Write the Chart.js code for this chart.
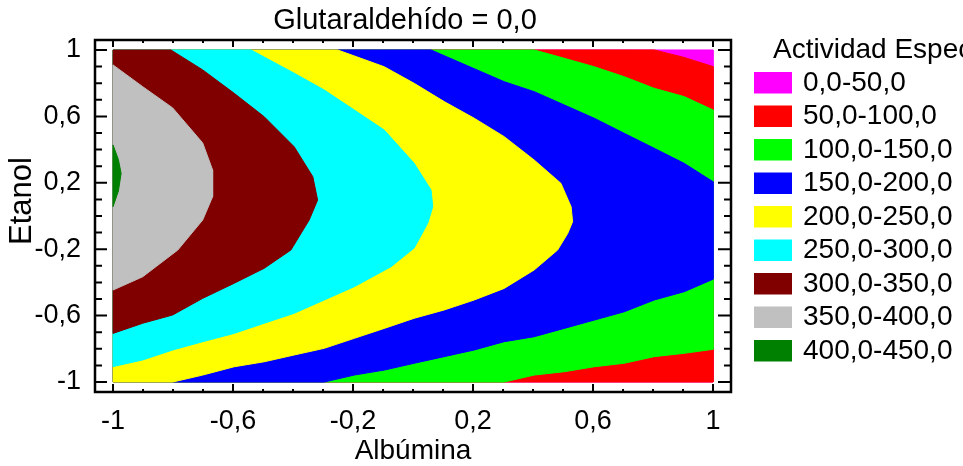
<!DOCTYPE html>
<html lang="es">
<head>
<meta charset="utf-8">
<title>Glutaraldehído = 0,0</title>
<script src="https://cdn.jsdelivr.net/npm/chart.js@4.4.1/dist/chart.umd.min.js"></script>
<style>
    html, body { margin: 0; padding: 0; background: #fff; }
    #wrap { width: 963px; height: 466px; }
</style>
</head>
<body>
<div id="wrap"><canvas id="contour" width="963" height="466"></canvas></div>
<script>
const FONT = '"Liberation Sans", Arial, Helvetica, sans-serif';

// Bands of the response surface, lowest activity first
const bandLabels = [
    "0,0-50,0", "50,0-100,0", "100,0-150,0", "150,0-200,0", "200,0-250,0",
    "250,0-300,0", "300,0-350,0", "350,0-400,0", "400,0-450,0"
];
const bandColors = [
    "#ff00ff", "#ff0000", "#00ff00", "#0000ff", "#ffff00",
    "#00ffff", "#800000", "#c0c0c0", "#008000"
];

const tickValues = [-1, -0.6, -0.2, 0.2, 0.6, 1];
const tickLabels = ["-1", "-0,6", "-0,2", "0,2", "0,6", "1"];

// Iso-lines as [albumina, etanol]; everything to their left is above the level.
// Each one runs from the top/left edge round the right side to the bottom/left edge.
const domain = [[-1, 1], [1, 1], [1, -1], [-1, -1]];
const iso50 = [[0.804, 1], [0.904, 0.955], [1, 0.9], [1, -1]];
const iso100 = [
    [0.404, 1], [0.504, 0.95], [0.604, 0.899], [0.704, 0.839], [0.804, 0.769],
    [0.904, 0.719], [1, 0.639], [1, -0.803], [0.904, -0.827], [0.804, -0.847],
    [0.704, -0.887], [0.604, -0.908], [0.504, -0.938], [0.404, -0.958], [0.304, -1]
];
const iso150 = [
    [0.06, 1], [0.304, 0.809], [0.404, 0.749], [0.504, 0.669], [0.604, 0.589],
    [0.704, 0.498], [0.804, 0.408], [0.904, 0.317], [1, 0.207],
    [1, -0.381], [0.904, -0.456], [0.804, -0.506], [0.704, -0.577], [0.604, -0.627],
    [0.504, -0.677], [0.404, -0.727], [0.304, -0.757], [0.204, -0.807], [0.104, -0.847],
    [0.004, -0.887], [-0.096, -0.928], [-0.196, -0.958], [-0.296, -1]
];
const iso200 = [
    [-0.251, 1], [-0.096, 0.899], [0.004, 0.799], [0.104, 0.689], [0.204, 0.589],
    [0.304, 0.478], [0.404, 0.337], [0.493, 0.197], [0.527, 0.056], [0.532, -0.034],
    [0.516, -0.104], [0.482, -0.205], [0.404, -0.325], [0.304, -0.436], [0.204, -0.506],
    [0.104, -0.566], [0.004, -0.616], [-0.096, -0.677], [-0.196, -0.737], [-0.296, -0.797],
    [-0.396, -0.837], [-0.496, -0.878], [-0.596, -0.908], [-0.701, -0.958], [-0.801, -1]
];
const iso250 = [
    [-0.54, 1], [-0.396, 0.86], [-0.296, 0.759], [-0.196, 0.639], [-0.096, 0.518],
    [0.004, 0.317], [0.06, 0.157], [0.066, 0.056], [0.049, -0.044], [0.004, -0.193],
    [-0.073, -0.305], [-0.196, -0.426], [-0.296, -0.506], [-0.396, -0.586], [-0.496, -0.646],
    [-0.596, -0.707], [-0.701, -0.757], [-0.801, -0.807], [-0.901, -0.867], [-1, -0.907]
];
const iso300 = [
    [-0.807, 1], [-0.701, 0.88], [-0.596, 0.739], [-0.496, 0.598], [-0.396, 0.417],
    [-0.334, 0.237], [-0.318, 0.096], [-0.346, -0.024], [-0.407, -0.205], [-0.496, -0.315],
    [-0.596, -0.405], [-0.701, -0.496], [-0.801, -0.596], [-0.901, -0.646], [-1, -0.707]
];
const iso350 = [
    [-1, 0.91], [-0.901, 0.779], [-0.801, 0.651], [-0.701, 0.44], [-0.668, 0.277],
    [-0.668, 0.116], [-0.701, -0.024], [-0.784, -0.205], [-0.901, -0.366], [-1, -0.446]
];
const iso400 = [[-1, 0.428], [-0.982, 0.34], [-0.973, 0.257], [-0.982, 0.15], [-1, 0.056]];

const contours = [domain, iso50, iso100, iso150, iso200, iso250, iso300, iso350, iso400];

// close an iso-line against the left side of the domain
function regionFrom(line) {
    const pts = line.slice();
    if (pts[0][1] === 1 && pts[0][0] !== -1) pts.unshift([-1, 1]);
    const last = pts[pts.length - 1];
    if (last[1] === -1 && last[0] !== -1) pts.push([-1, -1]);
    pts.push(pts[0]);
    return pts.map(([x, y]) => ({ x, y }));
}

const datasets = contours.map((line, i) => ({
    label: bandLabels[i],
    data: regionFrom(line),
    fill: "shape",
    backgroundColor: bandColors[i],
    borderColor: bandColors[i],
    borderWidth: 1,
    pointRadius: 0,
    tension: 0,
    order: contours.length - i   // higher bands painted last
}));

function isMajor(v) {
    return tickValues.some(t => Math.abs(t - v) < 1e-9);
}

// box, inward ticks, texts and the side legend
const framePlugin = {
    id: "frame",
    afterDraw(chart) {
        const { ctx, chartArea: a, scales: { x, y } } = chart;
        ctx.save();
        ctx.strokeStyle = "#000";
        ctx.lineWidth = 2.5;
        ctx.strokeRect(a.left, a.top, a.right - a.left, a.bottom - a.top);

        ctx.lineWidth = 2;
        ctx.beginPath();
        for (let i = -10; i <= 10; i++) {
            const v = i / 10;
            const major = isMajor(v);
            const px = x.getPixelForValue(v);
            const py = y.getPixelForValue(v);
            ctx.moveTo(px, a.bottom); ctx.lineTo(px, a.bottom - (major ? 8 : 3));
            ctx.moveTo(px, a.top); ctx.lineTo(px, a.top + (major ? 7 : 3));
            ctx.moveTo(a.left, py); ctx.lineTo(a.left + (major ? 12 : 7), py);
            ctx.moveTo(a.right, py); ctx.lineTo(a.right - (major ? 13 : 7), py);
        }
        ctx.stroke();

        ctx.fillStyle = "#000";
        ctx.textBaseline = "middle";
        ctx.textAlign = "center";
        ctx.font = `29px ${FONT}`;
        ctx.fillText("Glutaraldehído = 0,0", (a.left + a.right) / 2 - 8, 21);

        ctx.save();
        ctx.translate(22.5, 201);
        ctx.rotate(-Math.PI / 2);
        ctx.font = `31px ${FONT}`;
        ctx.fillText("Etanol", 0, 0);
        ctx.restore();

        // legend
        const lx = a.right + 23;
        ctx.textAlign = "left";
        ctx.font = `28px ${FONT}`;
        ctx.fillText("Actividad Específica", lx + 19, 50);
        bandLabels.forEach((label, i) => {
            const top = 72 + i * 33.5;
            ctx.fillStyle = bandColors[i];
            ctx.fillRect(lx, top, 38, 21.5);
            ctx.fillStyle = "#000";
            ctx.fillText(label, lx + 49, top + 11);
        });
        ctx.restore();
    }
};

new Chart(document.getElementById("contour"), {
    type: "line",
    data: { datasets },
    options: {
        responsive: false,
        devicePixelRatio: 1,
        animation: false,
        events: [],
        layout: { padding: { top: 40, right: 232, left: 0, bottom: 0 } },
        plugins: {
            legend: { display: false },
            tooltip: { enabled: false },
            title: { display: false }
        },
        scales: {
            x: {
                type: "linear",
                min: -1.06,
                max: 1.06,
                afterBuildTicks: s => { s.ticks = tickValues.map(v => ({ value: v })); },
                afterFit: s => { s.height = 74; },
                grid: { display: false, drawTicks: false },
                border: { display: false },
                ticks: {
                    callback: v => tickLabels[tickValues.indexOf(v)],
                    font: { family: FONT, size: 27 },
                    color: "#000",
                    padding: 13,
                    maxRotation: 0,
                    autoSkip: false
                },
                title: {
                    display: true,
                    text: "Albúmina",
                    font: { family: FONT, size: 28, lineHeight: 1 },
                    color: "#000",
                    padding: { top: 0, bottom: 1 }
                }
            },
            y: {
                type: "linear",
                min: -1.06,
                max: 1.06,
                afterBuildTicks: s => { s.ticks = tickValues.map(v => ({ value: v })); },
                afterFit: s => { s.width = 95; },
                grid: { display: false, drawTicks: false },
                border: { display: false },
                ticks: {
                    callback: v => tickLabels[tickValues.indexOf(v)],
                    font: { family: FONT, size: 27 },
                    color: "#000",
                    padding: 14,
                    autoSkip: false
                }
            }
        }
    },
    plugins: [framePlugin]
});
</script>
</body>
</html>
